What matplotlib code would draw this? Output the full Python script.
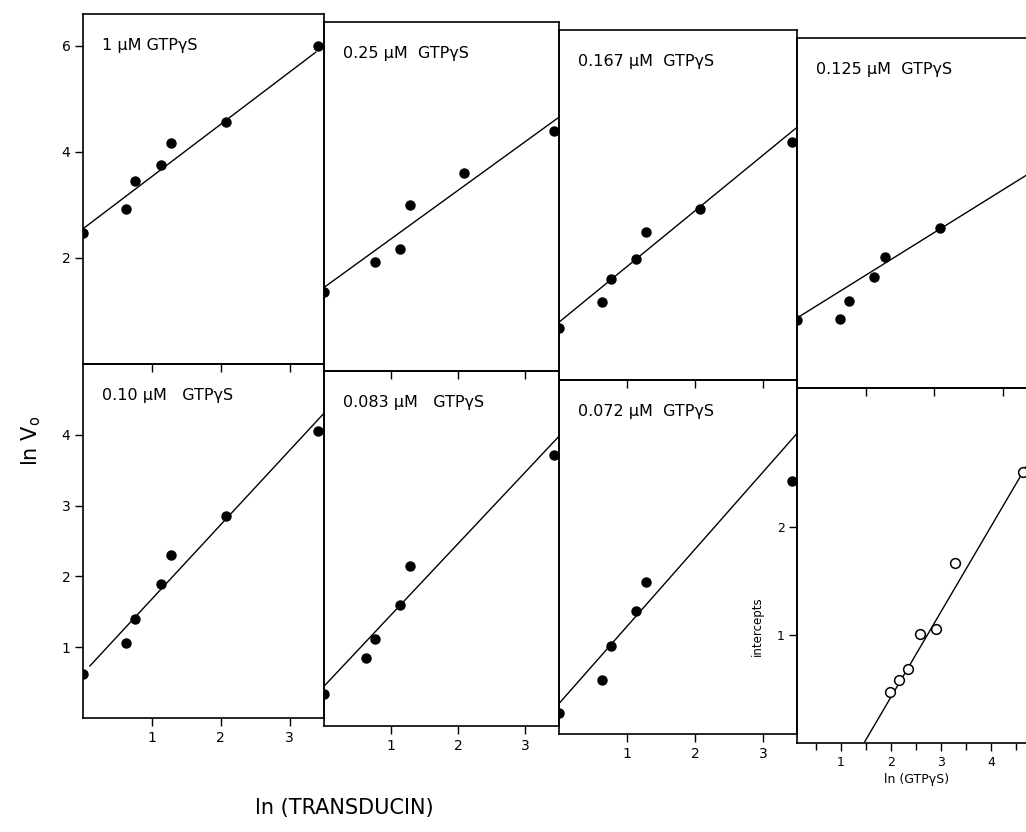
import numpy as np
import matplotlib.pyplot as plt

# ln(transducin) panels: one per GTPgS concentration
titles = ['1 µM GTPγS', '0.25 µM  GTPγS', '0.167 µM  GTPγS', '0.125 µM  GTPγS',
          '0.10 µM   GTPγS', '0.083 µM   GTPγS', '0.072 µM  GTPγS']

x_pts = [
    [0, 0.63, 0.76, 1.13, 1.28, 2.08, 3.42],
    [0, 0.76, 1.13, 1.28, 2.08, 3.42],
    [0, 0.63, 0.76, 1.13, 1.28, 2.08, 3.42],
    [0, 0.63, 0.76, 1.13, 1.28, 2.08],
    [0, 0.63, 0.76, 1.13, 1.28, 2.08, 3.42],
    [0, 0.63, 0.76, 1.13, 1.28, 3.42],
    [0, 0.63, 0.76, 1.13, 1.28, 3.42],
]
y_pts = [
    [2.47, 2.93, 3.45, 3.75, 4.17, 4.57, 6.0],
    [1.49, 2.06, 2.30, 3.13, 3.75, 4.53],
    [0.98, 1.47, 1.90, 2.28, 2.79, 3.23, 4.49],
    [1.28, 1.30, 1.64, 2.09, 2.47, 3.02],
    [0.62, 1.06, 1.40, 1.89, 2.30, 2.86, 4.05],
    [0.45, 0.96, 1.23, 1.70, 2.25, 3.82],
    [0.30, 0.76, 1.24, 1.74, 2.15, 3.58],
]
# fitted lines: y = a + b*x, drawn from x0 to x1
fit_a = [2.55, 1.58, 1.09, 1.32, 0.63, 0.56, 0.43]
fit_b = [0.985, 0.92, 1.05, 0.805, 1.05, 1.006, 1.09]
fit_x0 = [0, 0, 0, 0, 0.1, 0, 0]
fit_x1 = [3.38, 3.5, 3.5, 3.5, 3.5, 3.5, 3.5]

# intercepts vs ln(GTPgS)
ln_gtp = [1.98, 2.16, 2.34, 2.58, 2.90, 3.28, 4.64]
intercepts = [0.47, 0.58, 0.69, 1.01, 1.06, 1.67, 2.51]
int_slope = 0.79
int_x0 = 1.46
int_x1 = 4.9

W, H = 1026, 832
lefts = [83, 324, 559, 797]
rights = [324, 559, 797, 1037]
tops = [14, 22, 30, 38]
mids = [364, 371, 380, 388]
bots = [718, 726, 734, 743]


def box(l, r, t, b):
    return [l / W, 1 - b / H, (r - l) / W, (b - t) / H]


fig = plt.figure(figsize=(W / 100, H / 100), dpi=100)


def style(ax, size=10):
    ax.set_facecolor('none')
    for s in ax.spines.values():
        s.set_linewidth(1.2)
    ax.tick_params(direction='out', length=6, width=1, labelsize=size, pad=3)


for i in range(7):
    r, c = divmod(i, 4)
    if r == 0:
        ax = fig.add_axes(box(lefts[c], rights[c], tops[c], mids[c]))
        ax.set_ylim(0, 6.6)
    else:
        ax = fig.add_axes(box(lefts[c], rights[c], mids[c], bots[c]))
        ax.set_ylim(0, 5.0)
    style(ax)
    ax.set_xlim(0, 3.5)
    ax.set_xticks([1, 2, 3])
    if r == 0:
        ax.set_xticklabels([])
    if c == 0:
        ax.set_yticks([2, 4, 6] if r == 0 else [1, 2, 3, 4])
    else:
        ax.set_yticks([])
    ax.plot(x_pts[i], y_pts[i], 'o', color='black', ms=6.5)
    xl = np.array([fit_x0[i], fit_x1[i]])
    ax.plot(xl, fit_a[i] + fit_b[i] * xl, color='black', lw=1.0)
    ax.text(0.08, 0.91, titles[i], transform=ax.transAxes, fontsize=11.5,
            ha='left', va='center')

# intercept panel
ax = fig.add_axes(box(lefts[3], rights[3], mids[3], bots[3]))
style(ax, 9)
ax.set_xlim(0.12, 4.92)
ax.set_ylim(0, 3.29)
ax.set_xticks([1, 2, 3, 4])
ax.set_xticks(np.arange(0.5, 5, 1.0), minor=True)
ax.tick_params(which='minor', direction='out', length=5, width=1)
ax.set_yticks([1, 2])
xl = np.array([int_x0, int_x1])
ax.plot(xl, int_slope * (xl - int_x0), color='black', lw=1.0)
ax.plot(ln_gtp, intercepts, 'o', mfc='white', mec='black', mew=1.1, ms=7)
ax.set_xlabel('ln (GTPγS)', fontsize=9, labelpad=3)
ax.set_ylabel('intercepts', fontsize=8.5)
ax.yaxis.set_label_coords(-0.14, 0.33)

fig.text(0.03, 0.47, 'ln V$_\\mathregular{o}$', rotation=90, fontsize=15,
         ha='center', va='center')
fig.text(0.336, 0.029, 'ln (TRANSDUCIN)', fontsize=15, ha='center', va='center')

fig.savefig('out.png', dpi=100)
